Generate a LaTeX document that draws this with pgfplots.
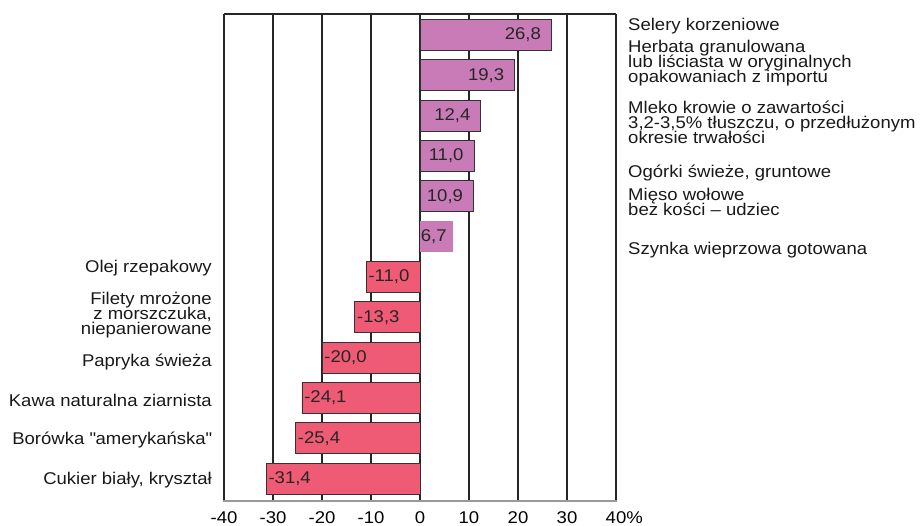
\documentclass[border=0pt]{standalone}
\usepackage{fontspec}
\setmainfont{Liberation Sans}[FakeStretch=1.09]
\usepackage{pgfplots}
\pgfplotsset{compat=1.18}
\definecolor{posbar}{RGB}{200,123,182}
\definecolor{negbar}{RGB}{239,91,116}
\newcommand{\lblfont}{\fontsize{17bp}{15bp}\selectfont\lineskiplimit=-20bp\relax}
\begin{document}
\begin{tikzpicture}[font=\lblfont]
\useasboundingbox (0,0) rectangle (920bp,526bp);
\begin{axis}[
  at={(224bp,25bp)}, anchor=south west,
  scale only axis, width=392bp, height=487bp,
  xmin=-40, xmax=40, ymin=-0.558, ymax=11.52,
  xbar, bar width=31bp, bar shift=0pt,
  clip=false,
  axis line style={draw=none},
  major tick length=0pt,
  xtick={-40,-30,...,40},
  xticklabels={-40,-30,-20,-10,0,10,20,30,40\rlap{\%}},
  ytick=\empty,
  xmajorgrids,
  major grid style={black!85, line width=1.2bp},
  xticklabel style={font=\lblfont, inner sep=0pt, yshift=-10.5bp},
  /pgf/number format/assume math mode=true,
  point meta=x,
  nodes near coords={\pgfmathprintnumber[fixed, fixed zerofill, precision=1, use comma, assume math mode=true]{\pgfplotspointmeta}},
  every node near coord/.append style={font=\lblfont, inner sep=0pt, text=black!85},
]
\addplot[fill=posbar, draw=black!80, line width=0.8bp, bar shift=0pt,
  nodes near coords align={anchor=east, xshift=-10bp}]
  coordinates {(26.8,11) (19.3,10) (12.4,9) (11.0,8) (10.9,7)};
\addplot[fill=posbar, draw=none, bar shift=0pt,
  nodes near coords align={anchor=east, xshift=-6bp}]
  coordinates {(6.7,6)};
\addplot[fill=negbar, draw=black!80, line width=0.8bp, bar shift=0pt,
  nodes near coords align={anchor=west, xshift=2bp}]
  coordinates {(-11.0,5) (-13.3,4) (-20.0,3) (-24.1,2) (-25.4,1) (-31.4,0)};
\draw[black!85, line width=1.2bp] (axis cs:-40,11.52) -- (axis cs:40,11.52);
\draw[black!40, line width=2bp] (axis cs:-40.2,-0.558) -- (axis cs:40.2,-0.558);
% right labels
\begin{scope}[every node/.style={anchor=west, align=left, inner sep=0pt, text=black!90, font=\lblfont}]
\node at (axis cs:42.45,11.223) {Selery korzeniowe};
\node at (axis cs:42.45,10.306) {Herbata granulowana\\lub liściasta w oryginalnych\\opakowaniach z importu};
\node at (axis cs:42.45,8.842) {Mleko krowie o zawartości\\3,2-3,5\% tłuszczu, o przedłużonym\\okresie trwałości};
\node at (axis cs:42.45,7.577) {Ogórki świeże, gruntowe};
\node at (axis cs:42.45,6.870) {Mięso wołowe\\bez kości -- udziec};
\node at (axis cs:42.45,5.667) {Szynka wieprzowa gotowana};
\end{scope}
\begin{scope}[every node/.style={anchor=east, align=right, inner sep=0pt, text=black!90, font=\lblfont}]
\node at (axis cs:-42.45,5.221) {Olej rzepakowy};
\node at (axis cs:-42.45,4.043) {Filety mrożone\\z morszczuka,\\niepanierowane};
\node at (axis cs:-42.45,2.897) {Papryka świeża};
\node at (axis cs:-42.45,1.947) {Kawa naturalna ziarnista};
\node at (axis cs:-42.45,0.955) {Borówka \textquotedbl amerykańska\textquotedbl};
\node at (axis cs:-42.45,-0.037) {Cukier biały, kryształ};
\end{scope}
\end{axis}
\end{tikzpicture}
\end{document}
